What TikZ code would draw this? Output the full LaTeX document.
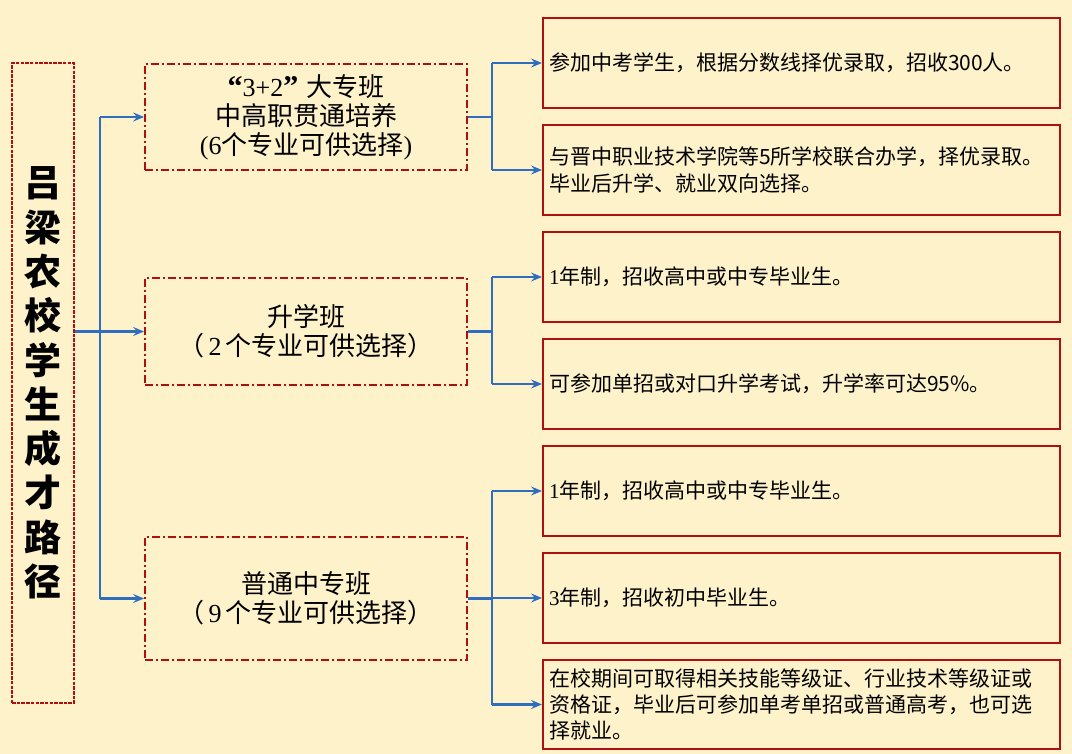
\documentclass[tikz,border=0pt]{standalone}
\usepackage{fontspec}
\setmainfont{Liberation Serif}
\newfontfamily\cjk{Noto Sans CJK SC}
\usetikzlibrary{arrows.meta}
\definecolor{bg}{HTML}{FEF2CB}
\definecolor{dred}{HTML}{B00F0F}
\definecolor{blu}{HTML}{2F6DBE}
\begin{document}
\begin{tikzpicture}[x=1pt,y=-1pt,
  titlebox/.style={draw=dred, line width=1.4pt, dash pattern=on 3.5pt off 1.2pt, fill=bg, inner sep=0pt,
    minimum width=62pt, minimum height=640pt, align=center,
    font=\cjk\bfseries\fontsize{37}{44.3}\selectfont},
  midbox/.style={draw=dred, line width=1.8pt, dash pattern=on 8pt off 3pt on 2pt off 3pt, fill=bg,
    inner sep=0pt, minimum width=322pt, align=center,
    font=\cjk\fontsize{26}{29}\selectfont},
  rbox/.style={draw=dred, line width=2pt, fill=bg, inner xsep=6pt, inner ysep=0pt,
    text width=505pt, minimum height=90pt, align=left,
    font=\cjk\fontsize{21}{26.3}\selectfont},
  conn/.style={draw=blu, line width=2.4pt},
  arr/.style={conn, -{Stealth[length=11pt,width=9pt,inset=4pt]}}]
\fill[bg] (0,0) rectangle (1072,754);
\useasboundingbox (0,0) rectangle (1072,754);

\node[titlebox] (title) at (43,383) {吕\\梁\\农\\校\\学\\生\\成\\才\\路\\径};

\node[midbox, minimum height=106pt] (m1) at (306,117)
  {{\rmfamily\bfseries\fontsize{30}{29}\selectfont “}{\rmfamily 3+2}{\rmfamily\bfseries\fontsize{30}{29}\selectfont ”}\hspace{8pt}大专班\\中高职贯通培养\\{\rmfamily (6}个专业可供选择{\rmfamily )}};
\node[midbox, minimum height=107pt] (m2) at (306,331.5)
  {升学班\\（{\rmfamily\,2\,}个专业可供选择）};
\node[midbox, minimum height=123pt] (m3) at (306,598.5)
  {普通中专班\\（{\rmfamily\,9\,}个专业可供选择）};

\node[rbox] (r1) at (801.5,63) {参加中考学生，根据分数线择优录取，招收300人。};
\node[rbox] (r2) at (801.5,170) {与晋中职业技术学院等5所学校联合办学，择优录取。\\毕业后升学、就业双向选择。};
\node[rbox] (r3) at (801.5,277) {{\rmfamily 1}年制，招收高中或中专毕业生。};
\node[rbox] (r4) at (801.5,384) {可参加单招或对口升学考试，升学率可达95\%。};
\node[rbox] (r5) at (801.5,491) {{\rmfamily 1}年制，招收高中或中专毕业生。};
\node[rbox] (r6) at (801.5,598) {{\rmfamily 3}年制，招收初中毕业生。};
\node[rbox, minimum height=89pt] (r7) at (801.5,704.5) {在校期间可取得相关技能等级证、行业技术等级证或\\资格证，毕业后可参加单考单招或普通高考，也可选\\择就业。};

\coordinate (tk) at (100,0);
\coordinate (bk) at (492,0);

% left trunk
\draw[conn] (tk |- m1.west) -- (tk |- m3.west);
\draw[arr] (title.east |- m2.west) -- (m2.west);
\draw[arr] (tk |- m1.west) -- (m1.west);
\draw[arr] (tk |- m3.west) -- (m3.west);

% branch 1
\draw[conn] (m1.east) -- (bk |- m1.east);
\draw[conn] (bk |- r1.west) -- (bk |- r2.west);
\draw[arr] (bk |- r1.west) -- (r1.west);
\draw[arr] (bk |- r2.west) -- (r2.west);

% branch 2
\draw[conn] (m2.east) -- (bk |- m2.east);
\draw[conn] (bk |- r3.west) -- (bk |- r4.west);
\draw[arr] (bk |- r3.west) -- (r3.west);
\draw[arr] (bk |- r4.west) -- (r4.west);

% branch 3
\draw[conn] (m3.east) -- (bk |- m3.east);
\draw[conn] (bk |- r5.west) -- (bk |- r7.west);
\draw[arr] (bk |- r5.west) -- (r5.west);
\draw[arr] (bk |- r6.west) -- (r6.west);
\draw[arr] (bk |- r7.west) -- (r7.west);
\end{tikzpicture}
\end{document}
